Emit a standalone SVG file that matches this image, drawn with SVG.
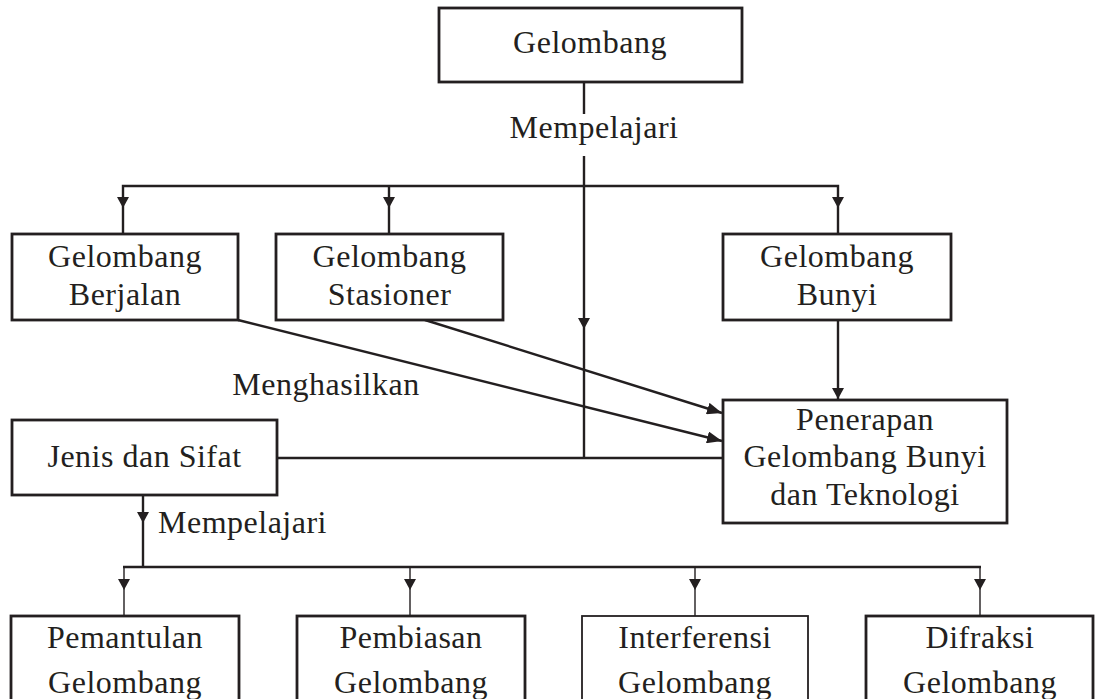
<svg xmlns="http://www.w3.org/2000/svg" width="1095" height="699" viewBox="0 0 1095 699">
<style>
.box{fill:#fff;stroke:#231f20;stroke-width:2.8}
.thin{stroke-width:1.8}
.t{font-family:"Liberation Serif","Times New Roman",serif;font-size:32px;letter-spacing:0.5px;fill:#231f20;text-anchor:middle}
.l{text-anchor:start}
.c{stroke:#231f20;stroke-width:2.4;fill:none}
.cs{stroke:#231f20;stroke-width:1.4;fill:none}
.ah{fill:#231f20}
</style>
<defs>
<path id="ah" d="M-6,0 L6,0 L0,11 Z"/>
<marker id="arr" markerUnits="userSpaceOnUse" markerWidth="16" markerHeight="12" refX="15" refY="6" orient="auto">
<path d="M0,0 L15,6 L0,12 Z" fill="#231f20"/>
</marker>
</defs>
<rect width="1095" height="699" fill="#fff"/>
<g id="connectors">
<line class="c" x1="584" y1="82" x2="584" y2="114"/>
<line class="c" x1="584" y1="156" x2="584" y2="459"/>
<path class="c" d="M123,234 V186 H838 V234"/>
<line class="c" x1="389" y1="186" x2="389" y2="234"/>
<use href="#ah" class="ah" x="123" y="197"/>
<use href="#ah" class="ah" x="389" y="197"/>
<use href="#ah" class="ah" x="838" y="197"/>
<use href="#ah" class="ah" x="584" y="318"/>
<line class="c" x1="838" y1="320" x2="838" y2="400"/>
<use href="#ah" class="ah" x="838" y="388"/>
<line class="c" x1="238" y1="320" x2="722" y2="441" marker-end="url(#arr)"/>
<line class="c" x1="425" y1="320" x2="722" y2="413" marker-end="url(#arr)"/>
<line class="c" x1="277" y1="458" x2="723" y2="458"/>
<line class="c" x1="143" y1="495" x2="143" y2="568"/>
<use href="#ah" class="ah" x="143" y="512"/>
<line class="c" x1="123" y1="567" x2="981" y2="567"/>
<path class="cs" d="M124,567 V616 M410,567 V616 M695,567 V616 M980,567 V616"/>
<use href="#ah" class="ah" x="124" y="579"/>
<use href="#ah" class="ah" x="410" y="579"/>
<use href="#ah" class="ah" x="695" y="579"/>
<use href="#ah" class="ah" x="980" y="579"/>
<text class="t" x="594" y="138">Mempelajari</text>
<text class="t" x="326" y="395">Menghasilkan</text>
<text class="t l" x="158" y="533">Mempelajari</text>
</g>
<g id="gelombang">
<rect class="box" x="439" y="8" width="303" height="74"/>
<text class="t" x="590" y="53">Gelombang</text>
</g>
<g id="berjalan">
<rect class="box" x="12" y="234" width="226" height="86"/>
<text class="t" x="125" y="267">Gelombang</text>
<text class="t" x="125" y="305">Berjalan</text>
</g>
<g id="stasioner">
<rect class="box" x="276" y="234" width="227" height="86"/>
<text class="t" x="389.5" y="267">Gelombang</text>
<text class="t" x="389.5" y="305">Stasioner</text>
</g>
<g id="bunyi">
<rect class="box" x="723" y="234" width="228" height="86"/>
<text class="t" x="837" y="267">Gelombang</text>
<text class="t" x="837" y="305">Bunyi</text>
</g>
<g id="jenis">
<rect class="box" x="12" y="420" width="265" height="75"/>
<text class="t" x="144.5" y="467">Jenis dan Sifat</text>
</g>
<g id="penerapan">
<rect class="box" x="723" y="400" width="284" height="123"/>
<text class="t" x="865" y="430">Penerapan</text>
<text class="t" x="865" y="467">Gelombang Bunyi</text>
<text class="t" x="865" y="505">dan Teknologi</text>
</g>
<g id="pemantulan">
<rect class="box" x="11" y="616" width="228" height="110"/>
<text class="t" x="125" y="648">Pemantulan</text>
<text class="t" x="125" y="693">Gelombang</text>
</g>
<g id="pembiasan">
<rect class="box" x="297" y="616" width="228" height="110"/>
<text class="t" x="411" y="648">Pembiasan</text>
<text class="t" x="411" y="693">Gelombang</text>
</g>
<g id="interferensi">
<rect class="box thin" x="582" y="616" width="226" height="110"/>
<text class="t" x="695" y="648">Interferensi</text>
<text class="t" x="695" y="693">Gelombang</text>
</g>
<g id="difraksi">
<rect class="box" x="866" y="616" width="227" height="110"/>
<text class="t" x="980" y="648">Difraksi</text>
<text class="t" x="980" y="693">Gelombang</text>
</g>
</svg>
